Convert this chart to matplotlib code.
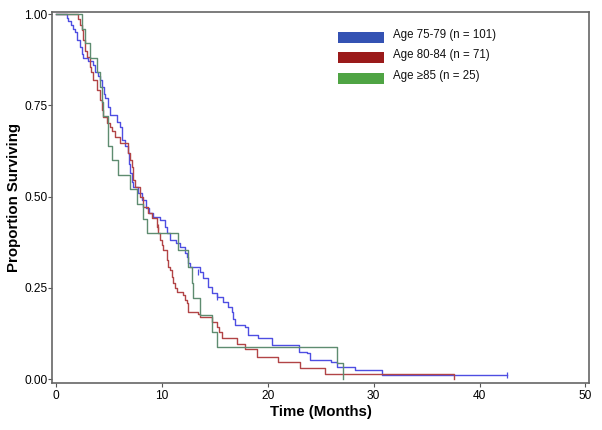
import matplotlib
matplotlib.use("Agg")
import matplotlib.pyplot as plt
from matplotlib.patches import Rectangle

plt.rcParams['font.family'] = ['Liberation Sans', 'DejaVu Sans']

# ---- data ----
labels = ["Age 75-79 (n = 101)", "Age 80-84 (n = 71)", "Age \u226585 (n = 25)"]

t_7579 = [0, 1.0, 1.16, 1.4, 1.6, 1.79, 2.0, 2.27, 2.45, 2.58, 3.05, 3.49, 3.7, 3.95, 4.15,
          4.35, 4.5, 4.63, 4.91, 5.10, 5.73, 6.04, 6.20, 6.5, 6.80, 6.9, 6.99, 7.15, 7.27,
          7.74, 8.09, 8.5, 8.8, 9.19, 9.82, 10.29, 10.5, 10.77, 11.3, 11.71, 12.18, 12.34,
          12.49, 12.65, 13.6, 13.9, 14.38, 14.7, 15.17, 15.8, 16.27, 16.6, 16.75, 16.9,
          17.85, 18.16, 19.1, 20.37, 22.9, 23.67, 24.0, 26.0, 26.5, 28.2, 30.75, 42.6]
s_7579 = [1.0, 0.99, 0.98, 0.97, 0.96, 0.95, 0.93, 0.91, 0.89, 0.88, 0.87, 0.86, 0.84, 0.83, 0.82,
          0.80, 0.78, 0.77, 0.745, 0.723, 0.705, 0.69, 0.654, 0.64, 0.619, 0.59, 0.564, 0.54, 0.526,
          0.509, 0.491, 0.47, 0.455, 0.445, 0.436, 0.418, 0.40, 0.381, 0.372, 0.363, 0.346, 0.336,
          0.318, 0.308, 0.295, 0.276, 0.253, 0.235, 0.226, 0.212, 0.199, 0.185, 0.165, 0.149,
          0.144, 0.121, 0.112, 0.094, 0.076, 0.071, 0.053, 0.048, 0.034, 0.025, 0.012, 0.012]

t_8084 = [0, 2.1, 2.25, 2.42, 2.58, 2.75, 2.9, 3.2, 3.35, 3.53, 3.84, 4.15, 4.31, 4.47, 4.79,
          5.1, 5.3, 5.57, 6.04, 6.83, 7.0, 7.15, 7.3, 7.46, 7.93, 8.24, 8.72, 9.04, 9.51, 9.65,
          9.82, 10.0, 10.13, 10.45, 10.6, 10.77, 10.93, 11.08, 11.24, 11.4, 12.02, 12.18, 12.34,
          12.49, 13.44, 13.6, 14.7, 15.17, 15.4, 15.65, 17.06, 17.85, 18.95, 21.0, 23.0, 25.4, 37.6]
s_8084 = [1.0, 0.986, 0.97, 0.956, 0.929, 0.90, 0.883, 0.856, 0.84, 0.819, 0.792, 0.765, 0.737, 0.719, 0.701,
          0.692, 0.68, 0.664, 0.646, 0.62, 0.60, 0.582, 0.546, 0.527, 0.50, 0.472, 0.454, 0.441, 0.418, 0.40,
          0.381, 0.368, 0.354, 0.327, 0.308, 0.299, 0.281, 0.263, 0.249, 0.240, 0.231, 0.217, 0.208,
          0.185, 0.178, 0.171, 0.158, 0.144, 0.13, 0.112, 0.096, 0.082, 0.062, 0.047, 0.030, 0.015, 0.0]

t_85 = [0, 2.43, 2.74, 3.21, 3.84, 4.15, 4.3, 4.47, 4.94, 5.26, 5.88, 6.99, 7.62, 8.24, 8.56,
        11.55, 12.5, 12.8, 12.97, 13.6, 14.7, 15.2, 26.5, 27.1]
s_85 = [1.0, 0.96, 0.92, 0.88, 0.84, 0.80, 0.76, 0.72, 0.64, 0.60, 0.56, 0.52, 0.48, 0.44, 0.40,
        0.354, 0.308, 0.263, 0.222, 0.176, 0.130, 0.089, 0.044, 0.0]

# censor marks
cens_t_7579 = [13.4, 15.2, 42.6]
cens_s_7579 = [0.295, 0.226, 0.012]
cens_t_8084 = [9.6]
cens_s_8084 = [0.418]

xticks = [0, 10, 20, 30, 40, 50]
yticks = [0.0, 0.25, 0.50, 0.75, 1.00]

line_colors = ["#4e4ee2", "#b24446", "#5e8c70"]
patch_colors = ["#3452b3", "#9a1a1a", "#4fa444"]

# ---- figure ----
fig = plt.figure(figsize=(6.02, 4.30), dpi=100)
ax = fig.add_axes([0.0869, 0.1086, 0.892, 0.8635])

series = [(t_7579, s_7579), (t_8084, s_8084), (t_85, s_85)]
for (t, s), c in zip(series, line_colors):
    ax.step(t, s, where='post', color=c, lw=1.0)

ax.plot(cens_t_7579, cens_s_7579, linestyle='none', marker='|', ms=4, mew=0.9, color=line_colors[0])
ax.plot(cens_t_8084, cens_s_8084, linestyle='none', marker='|', ms=4, mew=0.9, color=line_colors[1])

ax.set_xlim(-0.35, 50.36)
ax.set_ylim(-0.011, 1.0055)
ax.set_xticks(xticks)
ax.set_yticks(yticks)
ax.set_yticklabels([f"{v:.2f}" for v in yticks])
ax.tick_params(direction='out', length=3, width=0.8, colors='#555555', labelsize=8.6,
               labelcolor='#000000', pad=2)
ax.tick_params(axis='y', pad=0.6)
for sp in ax.spines.values():
    sp.set_color('#666666')
    sp.set_linewidth(1.2)

ax.set_xlabel("Time (Months)", fontsize=10.8, fontweight='bold', labelpad=2)
ax.set_ylabel("Proportion Surviving", fontsize=10.8, fontweight='bold')
ax.yaxis.set_label_coords(-0.059, 0.5)

# legend (manual)
W, H = 602.0, 430.0
rows_y = [37.2, 57.8, 78.3]
for lab, pc, yc in zip(labels, patch_colors, rows_y):
    fig.patches.append(Rectangle((338.3 / W, 1 - (yc + 5.5) / H), 46 / W, 11 / H,
                                 transform=fig.transFigure, facecolor=pc, edgecolor='none'))
    fig.text(393 / W, 1 - (yc - 2.5) / H, lab, fontsize=8.3, va='center', ha='left', color='#111111')

fig.savefig("out.png", dpi=100)
